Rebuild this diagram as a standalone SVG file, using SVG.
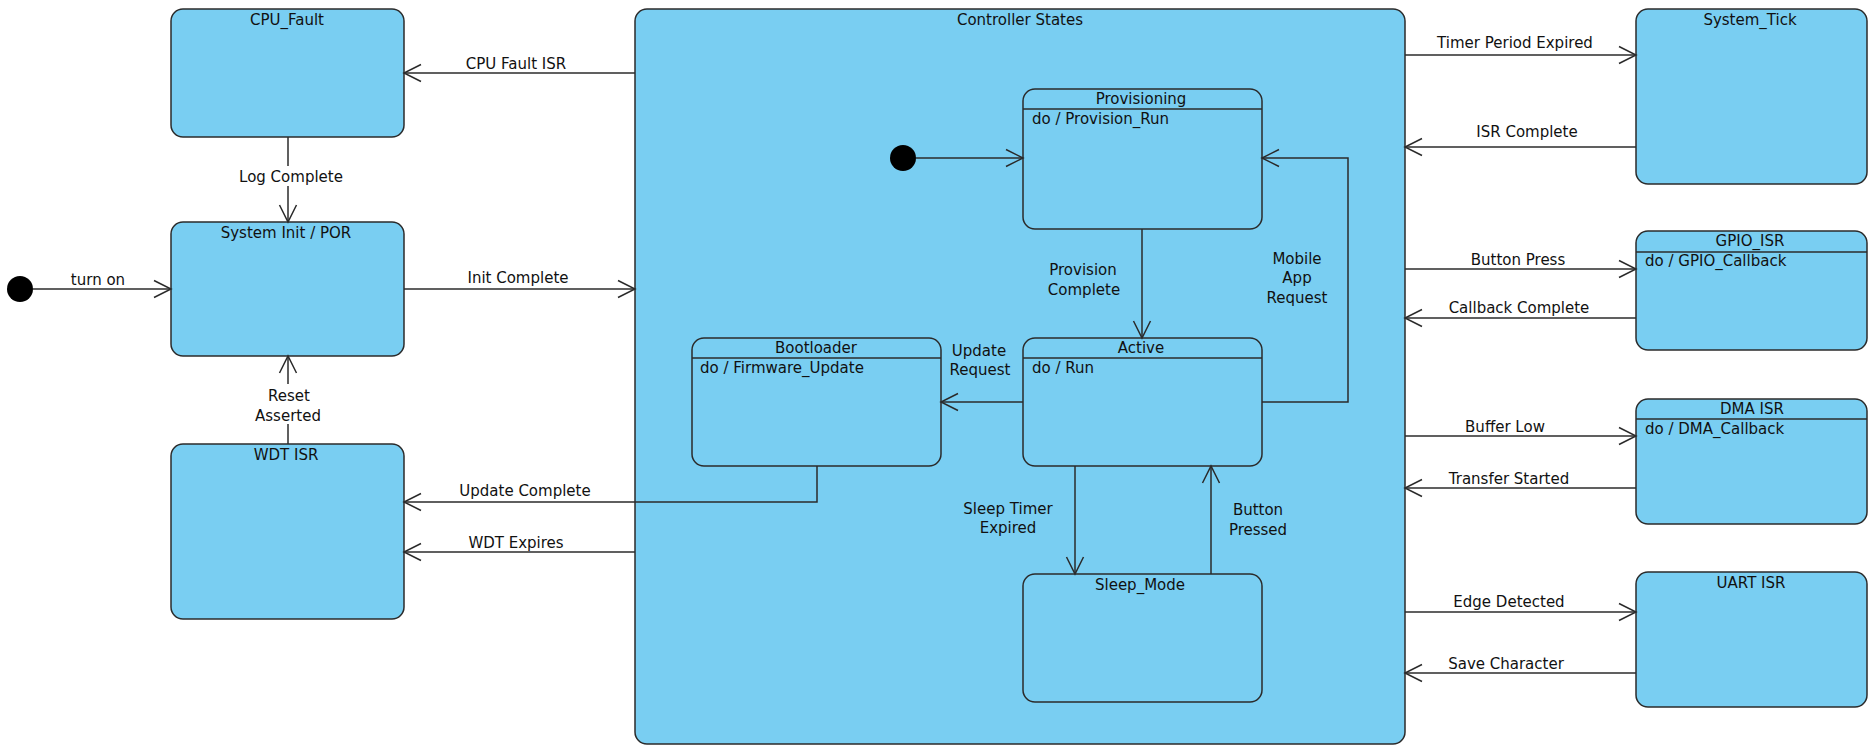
<svg xmlns="http://www.w3.org/2000/svg" width="1868" height="745" viewBox="0 0 1868 745">
<defs>
<style>
.st{fill:#79cef2;stroke:#2b2b2b;stroke-width:1.5}
.dv{stroke:#2b2b2b;stroke-width:1.5}
.t{font-family:"DejaVu Sans",sans-serif;font-size:15px;fill:#111}
.c{text-anchor:middle}
.e{fill:none;stroke:#2b2b2b;stroke-width:1.5;marker-end:url(#arr)}
.bg{fill:#ffffff}
</style>
<marker id="arr" viewBox="-19 -10 21 20" markerWidth="21" markerHeight="20" refX="0" refY="0" orient="auto" markerUnits="userSpaceOnUse">
<path d="M-17,-8.5 L0,0 L-17,8.5" fill="none" stroke="#2b2b2b" stroke-width="1.5"/>
</marker>
</defs>
<rect width="1868" height="745" fill="#ffffff"/>

<g id="controller_states">
<rect class="st" x="635" y="9" width="770" height="735" rx="12"/>
<text class="t c" x="1020" y="25">Controller States</text>
</g>

<g id="init_outer"><circle cx="20" cy="289" r="13" fill="#000"/></g>
<g id="init_inner"><circle cx="903" cy="158" r="13" fill="#000"/></g>

<g id="cpu_fault">
<rect class="st" x="171" y="9" width="233" height="128" rx="12"/>
<text class="t c" x="287" y="25">CPU_Fault</text>
</g>
<g id="system_init">
<rect class="st" x="171" y="222" width="233" height="134" rx="12"/>
<text class="t c" x="286" y="238">System Init / POR</text>
</g>
<g id="wdt_isr">
<rect class="st" x="171" y="444" width="233" height="175" rx="12"/>
<text class="t c" x="286" y="460">WDT ISR</text>
</g>

<g id="provisioning">
<rect class="st" x="1023" y="89" width="239" height="140" rx="12"/>
<line class="dv" x1="1023" y1="109" x2="1262" y2="109"/>
<text class="t c" x="1141" y="104">Provisioning</text>
<text class="t" x="1032" y="124">do / Provision_Run</text>
</g>
<g id="bootloader">
<rect class="st" x="692" y="338" width="249" height="128" rx="12"/>
<line class="dv" x1="692" y1="358" x2="941" y2="358"/>
<text class="t c" x="816" y="353">Bootloader</text>
<text class="t" x="700" y="373">do / Firmware_Update</text>
</g>
<g id="active">
<rect class="st" x="1023" y="338" width="239" height="128" rx="12"/>
<line class="dv" x1="1023" y1="358" x2="1262" y2="358"/>
<text class="t c" x="1141" y="353">Active</text>
<text class="t" x="1032" y="373">do / Run</text>
</g>
<g id="sleep_mode">
<rect class="st" x="1023" y="574" width="239" height="128" rx="12"/>
<text class="t c" x="1140" y="590">Sleep_Mode</text>
</g>

<g id="system_tick">
<rect class="st" x="1636" y="9" width="231" height="175" rx="12"/>
<text class="t c" x="1750" y="25">System_Tick</text>
</g>
<g id="gpio_isr">
<rect class="st" x="1636" y="231" width="231" height="119" rx="12"/>
<line class="dv" x1="1636" y1="252" x2="1867" y2="252"/>
<text class="t c" x="1750" y="246">GPIO_ISR</text>
<text class="t" x="1645" y="266">do / GPIO_Callback</text>
</g>
<g id="dma_isr">
<rect class="st" x="1636" y="399" width="231" height="125" rx="12"/>
<line class="dv" x1="1636" y1="419" x2="1867" y2="419"/>
<text class="t c" x="1752" y="414">DMA ISR</text>
<text class="t" x="1645" y="434">do / DMA_Callback</text>
</g>
<g id="uart_isr">
<rect class="st" x="1636" y="572" width="231" height="135" rx="12"/>
<text class="t c" x="1751" y="588">UART ISR</text>
</g>

<g id="connectors">
<path class="e" d="M33,289 H171"/>
<text class="t c" x="98" y="285">turn on</text>
<path class="e" d="M635,73 H404"/>
<text class="t c" x="516" y="69">CPU Fault ISR</text>
<path class="e" d="M288,137 V222"/>
<rect class="bg" x="238" y="166" width="108" height="20"/>
<text class="t c" x="291" y="182">Log Complete</text>
<path class="e" d="M404,289 H635"/>
<text class="t c" x="518" y="283">Init Complete</text>
<path class="e" d="M288,444 V356"/>
<rect class="bg" x="253" y="384" width="70" height="40"/>
<text class="t c" x="289" y="401">Reset</text>
<text class="t c" x="288" y="421">Asserted</text>
<path class="e" d="M817,466 V502 H404"/>
<text class="t c" x="525" y="496">Update Complete</text>
<path class="e" d="M635,552 H404"/>
<text class="t c" x="516" y="548">WDT Expires</text>
<path class="e" d="M916,158 H1023"/>
<path class="e" d="M1142,229 V338"/>
<text class="t c" x="1083" y="275">Provision</text>
<text class="t c" x="1084" y="295">Complete</text>
<path class="e" d="M1262,402 H1348 V158 H1262"/>
<text class="t c" x="1297" y="264">Mobile</text>
<text class="t c" x="1297" y="283">App</text>
<text class="t c" x="1297" y="303">Request</text>
<path class="e" d="M1023,402 H941"/>
<text class="t c" x="979" y="356">Update</text>
<text class="t c" x="980" y="375">Request</text>
<path class="e" d="M1075,466 V574"/>
<text class="t c" x="1008" y="514">Sleep Timer</text>
<text class="t c" x="1008" y="533">Expired</text>
<path class="e" d="M1211,574 V466"/>
<text class="t c" x="1258" y="515">Button</text>
<text class="t c" x="1258" y="535">Pressed</text>
<path class="e" d="M1405,55 H1636"/>
<text class="t c" x="1515" y="48">Timer Period Expired</text>
<path class="e" d="M1636,147 H1405"/>
<text class="t c" x="1527" y="137">ISR Complete</text>
<path class="e" d="M1405,269 H1636"/>
<text class="t c" x="1518" y="265">Button Press</text>
<path class="e" d="M1636,318 H1405"/>
<text class="t c" x="1519" y="313">Callback Complete</text>
<path class="e" d="M1405,436 H1636"/>
<text class="t c" x="1505" y="432">Buffer Low</text>
<path class="e" d="M1636,488 H1405"/>
<text class="t c" x="1509" y="484">Transfer Started</text>
<path class="e" d="M1405,612 H1636"/>
<text class="t c" x="1509" y="607">Edge Detected</text>
<path class="e" d="M1636,673 H1405"/>
<text class="t c" x="1506" y="669">Save Character</text>
</g>
</svg>
